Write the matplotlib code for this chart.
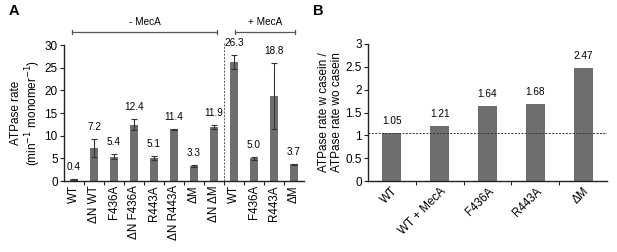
import numpy as np
import matplotlib.pyplot as plt

plt.rcParams['font.family'] = ['Liberation Sans', 'DejaVu Sans']

# ---------------- Dados ----------------
rotulos_a = ["WT", "ΔN WT", "F436A", "ΔN F436A", "R443A", "ΔN R443A", "ΔM", "ΔN ΔM",
             "WT", "F436A", "R443A", "ΔM"]
taxa_a = [0.4, 7.2, 5.4, 12.4, 5.1, 11.4, 3.3, 11.9, 26.3, 5.0, 18.8, 3.7]
erro_a = [0.1, 2.0, 0.5, 1.2, 0.5, 0.1, 0.3, 0.5, 1.6, 0.3, 7.3, 0.1]

rotulos_b = ["WT", "WT + MecA", "F436A", "R443A", "ΔM"]
razao_b = [1.05, 1.21, 1.64, 1.68, 2.47]
linha_ref_b = 1.05

COR_BARRA = "#6e6e6e"
COR_EIXO = "#222222"

fig = plt.figure(figsize=(6.17, 2.52), dpi=100)

def estilo_eixo(ax, n):
    for lado in ["top", "right"]:
        ax.spines[lado].set_visible(False)
    for lado in ["left", "bottom"]:
        ax.spines[lado].set_color(COR_EIXO)
        ax.spines[lado].set_linewidth(1.0)
    ax.set_xlim(-0.5, n - 0.5)
    ax.set_xticks(np.arange(n))
    ax.set_xticks(np.arange(0.5, n - 1, 1), minor=True)
    ax.tick_params(axis="x", which="major", length=0, pad=3)
    ax.tick_params(axis="x", which="minor", length=3, width=0.8, color=COR_EIXO)
    ax.tick_params(axis="y", length=3, width=0.8, color=COR_EIXO, labelsize=8.5, pad=1.5)

# ---------------- Painel A ----------------
ax1 = fig.add_axes([0.1037, 0.2817, 0.389, 0.5397])
x = np.arange(len(taxa_a))
ax1.bar(x, taxa_a, width=0.42, color=COR_BARRA, zorder=2)
ax1.errorbar(x, taxa_a, yerr=erro_a, fmt="none", ecolor="#333333",
             elinewidth=0.8, capsize=2, capthick=0.8, zorder=3)
for xi, v, e in zip(x, taxa_a, erro_a):
    ax1.annotate(f"{v:.1f}", (xi, v + e), xytext=(0, 5), textcoords="offset points",
                 ha="center", va="bottom", fontsize=7.2)
estilo_eixo(ax1, len(taxa_a))
ax1.set_ylim(0, 30)
ax1.set_yticks(np.arange(0, 31, 5))
ax1.set_xticklabels(rotulos_a, rotation=90, fontsize=8.4)
ax1.set_ylabel("ATPase rate\n(min$^{-1}$ monomer$^{-1}$)", fontsize=8.5, labelpad=1,
               linespacing=1.1)

ax1.plot([7.5, 7.5], [0, 30.4], linestyle=(0, (2, 1.5)), color="#555555",
         linewidth=0.7, clip_on=False, zorder=1)

# colchetes -MecA / +MecA
for x0, x1b, texto in [(-0.1, 7.15, "- MecA"), (8.05, 11.05, "+ MecA")]:
    ax1.plot([x0, x1b], [32.9, 32.9], color="#555555", linewidth=0.9, clip_on=False)
    ax1.plot([x0, x0], [32.4, 33.4], color="#555555", linewidth=0.9, clip_on=False)
    ax1.plot([x1b, x1b], [32.4, 33.4], color="#555555", linewidth=0.9, clip_on=False)
    ax1.text((x0 + x1b) / 2, 33.9, texto, ha="center", va="bottom", fontsize=7.2)

fig.text(0.014, 0.955, "A", fontsize=10.5, fontweight="bold", va="center")

# ---------------- Painel B ----------------
ax2 = fig.add_axes([0.5964, 0.2817, 0.3874, 0.5437])
xb = np.arange(len(razao_b))
ax2.bar(xb, razao_b, width=0.4, color=COR_BARRA, zorder=2)
for xi, v in zip(xb, razao_b):
    ax2.annotate(f"{v:.2f}", (xi, v), xytext=(0, 5), textcoords="offset points",
                 ha="center", va="bottom", fontsize=7.2)
ax2.axhline(linha_ref_b, linestyle=(0, (2, 1.5)), color="#333333", linewidth=0.7, zorder=3)
estilo_eixo(ax2, len(razao_b))
ax2.set_ylim(0, 3)
ax2.set_yticks([0, 0.5, 1, 1.5, 2, 2.5, 3])
ax2.set_yticklabels(["0", "0.5", "1", "1.5", "2", "2.5", "3"])
ax2.set_xticklabels(rotulos_b, rotation=45, ha="right", rotation_mode="anchor", fontsize=8.4)
ax2.set_ylabel("ATPase rate w casein /\nATPase rate wo casein", fontsize=8.5,
               labelpad=1.5, linespacing=1.1)

fig.text(0.508, 0.955, "B", fontsize=10.5, fontweight="bold", va="center")

plt.savefig("out.png", dpi=100)
plt.close()
